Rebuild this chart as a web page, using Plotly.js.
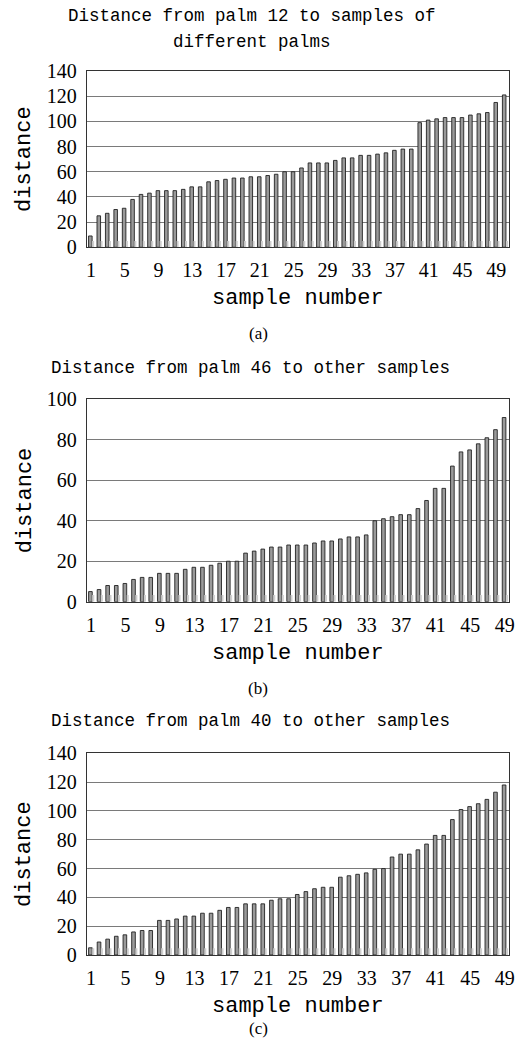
<!DOCTYPE html>
<html>
<head>
<meta charset="utf-8">
<script src="https://cdn.plot.ly/plotly-3.0.1.min.js"></script>
<style>
html,body{margin:0;padding:0;background:#fff;}
#chart{width:519px;height:1050px;}
</style>
</head>
<body>
<div id="chart"></div>
<script>
// ---- data ----
const samplesA = [1,2,3,4,5,6,7,8,9,10,11,12,13,14,15,16,17,18,19,20,21,22,23,24,25,26,27,28,29,30,31,32,33,34,35,36,37,38,39,40,41,42,43,44,45,46,47,48,49,50];
const samplesBC = [1,2,3,4,5,6,7,8,9,10,11,12,13,14,15,16,17,18,19,20,21,22,23,24,25,26,27,28,29,30,31,32,33,34,35,36,37,38,39,40,41,42,43,44,45,46,47,48,49];

const distPalm12 = [9,25,27,30,31,38,42,43,45,45,45,46,48,48,52,53,54,55,55,56,56,57,58,60,60,63,67,67,67,69,71,71,73,73,74,75,77,78,78,99,101,102,103,103,103,105,106,107,115,121];
const distPalm46 = [5,6,8,8,9,11,12,12,14,14,14,16,17,17,18,19,20,20,24,25,26,27,27,28,28,28,29,30,30,31,32,32,33,40,41,42,43,43,46,50,56,56,67,74,75,78,81,85,91];
const distPalm40 = [5,9,11,13,14,16,17,17,24,24,25,27,27,29,29,31,33,33,35.5,35.5,35.5,38,39,39,42,44,46,47,47,54,55,56,57,59.5,60,68,70,70,73,77,83,83,94,101,103,105,108,113,118];

// faint secondary bars along the baseline
const baseA = [5,5,5,5,5,5,5,5,5,5,5,5,5,5,5,5,5,5,5,5,5,5,5,5,5,5,5,5,5,5,5,5,5,5,5,5,5,5,5,5,5,5,5,5,5,5,5,5,5,5];
const baseB = [3.3,3.3,3.3,3.3,3.3,3.3,3.3,3.3,3.3,3.3,3.3,3.3,3.3,3.3,3.3,3.3,3.3,3.3,3.3,3.3,3.3,3.3,3.3,3.3,3.3,3.3,3.3,3.3,3.3,3.3,3.3,3.3,3.3,3.3,3.3,3.3,3.3,3.3,3.3,3.3,3.3,3.3,3.3,3.3,3.3,3.3,3.3,3.3,3.3];
const baseC = [4.6,4.6,4.6,4.6,4.6,4.6,4.6,4.6,4.6,4.6,4.6,4.6,4.6,4.6,4.6,4.6,4.6,4.6,4.6,4.6,4.6,4.6,4.6,4.6,4.6,4.6,4.6,4.6,4.6,4.6,4.6,4.6,4.6,4.6,4.6,4.6,4.6,4.6,4.6,4.6,4.6,4.6,4.6,4.6,4.6,4.6,4.6,4.6,4.6];

const xTickVals = [1,5,9,13,17,21,25,29,33,37,41,45,49];
const titleA1 = "Distance from palm 12 to samples of";
const titleA2 = "different palms";
const titleB = "Distance from palm 46 to other samples";
const titleC = "Distance from palm 40 to other samples";
const xTitle = "sample number";
const yTitle = "distance";
const captions = ["(a)", "(b)", "(c)"];

// ---- styling ----
const W = 519, H = 1050;
const monoFont = "Liberation Mono, DejaVu Sans Mono, monospace";
const serifFont = "Liberation Serif, DejaVu Serif, serif";
const px = v => v / W;
const py = v => 1 - v / H;

function barTrace(x, y, ax) {
  return {
    type: 'bar', x: x, y: y, xaxis: 'x' + ax, yaxis: 'y' + ax,
    offset: -0.28, width: 0.42,
    marker: {color: '#9a9a9a', line: {color: '#222', width: 0.9}},
    hoverinfo: 'x+y', showlegend: false
  };
}
function baseTrace(x, y, ax) {
  return {
    type: 'bar', x: x, y: y, xaxis: 'x' + ax, yaxis: 'y' + ax,
    offset: 0.14, width: 0.24,
    marker: {color: '#cfcfcf', line: {width: 0}},
    hoverinfo: 'skip', showlegend: false
  };
}

function xAxis(n, yAnchor) {
  return {
    domain: [px(86.7), px(509)],
    anchor: yAnchor,
    range: [0.5, n + 0.5],
    tickmode: 'array', tickvals: xTickVals, ticktext: xTickVals.map(String),
    ticks: '', ticklabelstandoff: 5,
    tickfont: {family: serifFont, size: 20, color: '#000'},
    showgrid: false, zeroline: false,
    showline: true, mirror: true, linecolor: '#333', linewidth: 1,
    title: {text: xTitle, font: {family: monoFont, size: 22, color: '#000'}, standoff: 8},
    fixedrange: true
  };
}
function yAxis(top, bottom, maxV, xAnchor) {
  return {
    domain: [py(bottom), py(top)],
    anchor: xAnchor,
    range: [0, maxV], dtick: 20, tick0: 0,
    ticks: '', ticklabelstandoff: 5,
    tickfont: {family: serifFont, size: 20, color: '#000'},
    showgrid: true, gridcolor: '#7a7a7a', gridwidth: 1,
    zeroline: false,
    showline: true, mirror: true, linecolor: '#333', linewidth: 1,
    title: {text: yTitle, font: {family: monoFont, size: 22, color: '#000'}, standoff: 9},
    fixedrange: true
  };
}

const data = [
  barTrace(samplesA, distPalm12, ''), baseTrace(samplesA, baseA, ''),
  barTrace(samplesBC, distPalm46, '2'), baseTrace(samplesBC, baseB, '2'),
  barTrace(samplesBC, distPalm40, '3'), baseTrace(samplesBC, baseC, '3')
];

function textAnn(text, xc, yc, font, size) {
  return {text: text, xref: 'paper', yref: 'paper', x: px(xc), y: py(yc),
    xanchor: 'center', yanchor: 'middle', showarrow: false,
    font: {family: font, size: size, color: '#000'}};
}

const layout = {
  width: W, height: H,
  margin: {l: 0, r: 0, t: 0, b: 0},
  paper_bgcolor: '#fff', plot_bgcolor: '#fff',
  barmode: 'overlay',
  xaxis: xAxis(50, 'y'),
  yaxis: yAxis(71, 247.3, 140, 'x'),
  xaxis2: xAxis(49, 'y2'),
  yaxis2: yAxis(399.3, 601.7, 100, 'x2'),
  xaxis3: xAxis(49, 'y3'),
  yaxis3: yAxis(753.3, 955, 140, 'x3'),
  annotations: [
    textAnn(titleA1, 252, 16, monoFont, 17.5),
    textAnn(titleA2, 252, 42, monoFont, 17.5),
    textAnn(titleB, 250, 368, monoFont, 17.5),
    textAnn(titleC, 250, 721, monoFont, 17.5),
    textAnn(captions[0], 258, 333, serifFont, 17),
    textAnn(captions[1], 258, 688, serifFont, 17),
    textAnn(captions[2], 258, 1028, serifFont, 17)
  ]
};

Plotly.newPlot('chart', data, layout, {displayModeBar: false, staticPlot: true});
</script>
</body>
</html>
